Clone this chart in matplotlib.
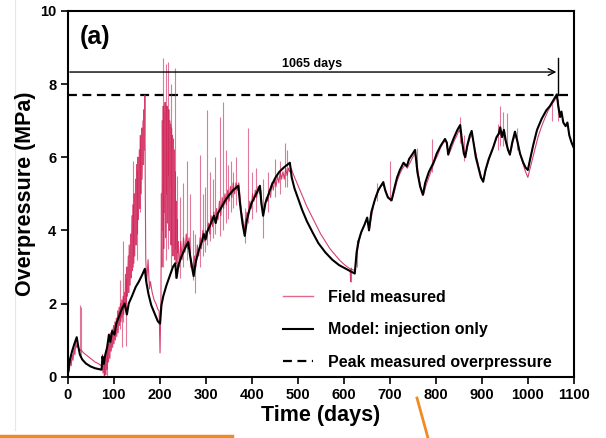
import matplotlib.pyplot as plt
from matplotlib.lines import Line2D

plt.rcParams['font.family'] = ['Liberation Sans', 'DejaVu Sans']
plt.rcParams['font.weight'] = 'bold'

# model: injection only (days, MPa)
model_days = [0, 5, 10, 15, 20, 23, 27, 32, 40, 50, 60, 74, 76, 79, 82, 86, 90, 93, 97, 102,
              106, 112, 118, 124, 129, 133, 140, 148, 155, 162, 168, 171, 176, 182, 190, 196,
              201, 204, 208, 215, 222, 229, 234, 237, 241, 248, 255, 262, 267, 271, 274, 278,
              285, 292, 296, 300, 303, 310, 318, 322, 326, 335, 342, 350, 360, 371, 375, 380,
              385, 390, 395, 400, 406, 412, 418, 421, 425, 430, 437, 444, 452, 460, 470, 483,
              487, 493, 500, 510, 520, 533, 545, 560, 575, 590, 605, 615, 624, 628, 632, 638,
              645, 651, 655, 660, 668, 675, 686, 690, 696, 704, 710, 716, 722, 730, 737, 742,
              750, 755, 760, 766, 772, 777, 785, 795, 802, 810, 820, 824, 827, 832, 840, 847,
              853, 857, 861, 864, 868, 874, 878, 882, 887, 893, 898, 903, 908, 915, 925, 932,
              937, 940, 944, 948, 952, 957, 961, 966, 972, 977, 983, 990, 995, 1000, 1005, 1012,
              1020, 1030, 1040, 1048, 1055, 1063, 1066, 1070, 1073, 1077, 1082, 1086, 1090,
              1095, 1100]
model_vals = [0.0, 0.45, 0.7, 0.9, 1.08, 0.85, 0.6, 0.47, 0.36, 0.28, 0.23, 0.19, 0.55, 0.35,
              0.6, 0.8, 1.15, 0.95, 1.25, 1.15, 1.45, 1.65, 1.85, 2.0, 1.7, 2.0, 2.2, 2.45, 2.6,
              2.78, 2.95, 2.6, 2.25, 1.95, 1.7, 1.52, 1.45, 1.95, 2.2, 2.5, 2.75, 3.0, 3.1, 2.7,
              3.05, 3.3, 3.5, 3.68, 3.25, 2.95, 2.75, 3.1, 3.45, 3.7, 3.9, 3.75, 3.95, 4.15, 4.4,
              4.2, 4.45, 4.65, 4.8, 4.95, 5.1, 5.22, 4.7, 4.2, 3.85, 4.3, 4.55, 4.75, 4.9, 5.05,
              5.22, 4.75, 4.4, 4.75, 5.0, 5.25, 5.45, 5.6, 5.72, 5.85, 5.45, 5.15, 4.9, 4.55,
              4.25, 3.93, 3.65, 3.4, 3.2, 3.05, 2.95, 2.88, 2.82, 3.4, 3.7, 3.95, 4.15, 4.35,
              4.0, 4.5, 4.85, 5.1, 5.32, 5.1, 4.9, 4.82, 5.15, 5.45, 5.65, 5.85, 5.75, 5.95, 6.1,
              6.2, 5.6, 5.2, 4.97, 5.3, 5.6, 5.85, 6.1, 6.3, 6.5, 6.4, 6.07, 6.3, 6.55, 6.75,
              6.88, 6.45, 6.1, 6.0, 6.3, 6.6, 6.72, 6.4, 6.0, 5.7, 5.45, 5.33, 5.65, 5.95, 6.28,
              6.55, 6.65, 6.82, 6.55, 6.75, 6.45, 6.2, 6.07, 6.4, 6.7, 6.45, 6.1, 5.85, 5.72,
              5.65, 5.95, 6.35, 6.75, 7.05, 7.28, 7.4, 7.55, 7.72, 7.4, 7.1, 7.25, 6.95, 6.85,
              6.95, 6.6, 6.4, 6.25]

# field measured (days, MPa)
field_days = [0, 2, 4, 6, 8, 10, 12, 14, 16, 18, 20, 22, 25, 30, 35, 40, 45, 50, 55, 60, 65,
              70, 74, 76, 77, 79, 80, 82, 83, 85, 86, 88, 89, 91, 92, 94, 95, 97, 98, 100, 101,
              103, 104, 106, 107, 109, 110, 112, 113, 115, 116, 118, 119, 121, 122, 124,
              125, 126, 128, 129, 130, 132, 133, 134, 136, 137, 138, 140, 141, 142, 144, 145,
              146, 148, 149, 150, 152, 153, 154, 156, 157, 158, 160, 161, 162, 164, 165, 166,
              167, 168, 169, 170, 172, 175, 178, 180, 184, 188, 192, 196, 199, 201, 203,
              204, 205, 206, 207, 208, 209, 210, 211, 212, 213, 214, 215, 216, 217, 218, 219,
              220, 221, 222, 223, 224, 225, 226, 227, 228, 229, 230, 231, 232, 233, 234, 235,
              236, 237, 238, 239, 240, 243, 246, 249, 252, 255, 258, 261, 264, 267, 270, 273,
              276, 279, 282, 285, 288, 291, 294, 297, 300, 303, 306, 309, 312, 315, 318, 321,
              324, 327, 330, 333, 336, 339, 342, 345, 348, 351, 354, 357, 360, 363, 366, 369,
              372, 375, 378, 381, 384, 387, 390, 393, 396, 399, 402, 405, 408, 411, 414, 417,
              420, 423, 426, 429, 432, 435, 438, 441, 444, 447, 450, 453, 456, 459, 462, 465,
              468, 471, 474, 477, 480, 483, 486, 490, 495, 500, 510, 520, 530, 540, 550, 560,
              570, 580, 590, 600, 610, 614, 615, 616, 620, 624, 626, 628, 632, 636, 640, 645,
              650, 653, 656, 660, 665, 670, 675, 680, 685, 690, 695, 700, 705, 710, 716, 722,
              728, 734, 738, 744, 750, 755, 758, 762, 766, 770, 774, 778, 785, 792, 798, 804,
              810, 816, 822, 826, 829, 834, 840, 846, 851, 855, 859, 863, 866, 870, 875, 879,
              883, 888, 893, 898, 902, 905, 910, 916, 922, 928, 933, 938, 942, 946, 950, 955,
              960, 964, 968, 973, 978, 984, 990, 995, 1000, 1003, 1008, 1015, 1022, 1030,
              1038, 1045, 1052, 1058, 1062, 1065, 1068, 1072]
field_vals = [0.0, 0.3, 0.15, 0.5, 0.3, 0.6, 0.45, 0.8, 0.6, 0.95, 0.8, 0.85, 0.75, 0.72, 0.65,
              0.6, 0.55, 0.5, 0.45, 0.4, 0.37, 0.33, 0.3, 0.6, 0.1, 0.4, 0.0, 0.5, 0.05, 0.7,
              0.2, 0.9, 0.4, 1.0, 0.5, 1.2, 0.7, 1.3, 0.8, 1.4, 0.9, 1.5, 1.0, 1.6, 1.1, 1.8,
              1.2, 1.9, 1.4, 2.0, 1.5, 2.1, 1.6, 2.2, 1.7, 2.3,
              1.9, 2.8, 2.0, 3.0, 2.2, 3.3, 2.3, 3.6, 2.5, 3.9, 2.7, 4.4, 2.9, 4.7, 3.1, 5.0,
              3.3, 5.4, 3.6, 5.8, 3.9, 6.0, 4.3, 6.2, 4.6, 6.6, 5.0, 6.8, 5.4, 7.0, 5.8, 7.3,
              6.2, 7.7, 5.0, 3.2, 2.6, 3.2, 2.4, 2.6, 2.3, 2.1, 2.0, 1.85, 1.8, 0.65, 2.2,
              5.0, 3.0, 7.0, 4.0, 7.4, 3.5, 7.2, 4.5, 7.5, 3.8, 7.3, 5.0, 7.4, 4.2, 7.1, 5.5,
              7.3, 4.0, 7.0, 5.2, 6.9, 3.6, 6.8, 4.8, 6.6, 3.3, 6.5, 4.4, 6.2, 3.2, 5.6, 3.5,
              4.8, 3.1, 4.3, 3.4, 3.7, 3.0, 3.7, 3.2, 3.8, 3.4, 3.9, 3.5, 3.8, 3.3, 3.1, 2.9,
              3.3, 3.0, 3.6, 3.3, 3.8, 3.5, 4.0, 3.7, 4.0, 3.8, 4.2, 3.9, 4.4, 4.1, 4.5, 4.2,
              4.6, 4.3, 4.8, 4.4, 4.9, 4.6, 5.0, 4.7, 5.1, 4.8, 5.2, 4.9, 5.3, 5.0, 5.3, 5.1,
              5.3, 4.9, 4.5, 4.3, 4.0, 4.3, 4.5, 4.4, 4.8, 4.6, 5.0, 4.8, 5.1, 4.9, 5.2, 5.0,
              5.1, 4.6, 4.5, 4.7, 4.9, 4.8, 5.1, 4.9, 5.3, 5.1, 5.4, 5.2, 5.5, 5.3, 5.6, 5.4,
              5.6, 5.4, 5.7, 5.5, 5.7, 5.6, 5.7, 5.55, 5.4, 5.25, 4.95, 4.65, 4.4, 4.15, 3.9,
              3.7, 3.5, 3.35, 3.2, 3.08, 2.98, 2.95, 2.6, 2.95, 2.92, 2.9, 3.0, 3.3, 3.6, 3.85,
              4.0, 4.15, 4.3, 4.2, 4.05, 4.35, 4.7, 4.95, 5.05, 5.2, 5.25, 5.15, 4.95, 4.85,
              4.85, 5.05, 5.35, 5.55, 5.7, 5.8, 5.7, 5.85, 6.0, 6.1, 5.95, 5.55, 5.25, 5.05,
              5.0, 5.2, 5.45, 5.7, 5.9, 6.05, 6.25, 6.4, 6.45, 6.2, 6.1, 6.25, 6.45, 6.6, 6.75,
              6.6, 6.25, 6.05, 6.1, 6.35, 6.55, 6.6, 6.35, 6.05, 5.75, 5.5, 5.35, 5.45, 5.7,
              5.95, 6.15, 6.4, 6.55, 6.65, 6.6, 6.7, 6.5, 6.3, 6.1, 6.2, 6.45, 6.6, 6.4, 6.05,
              5.8, 5.6, 5.45, 5.6, 5.85, 6.2, 6.55, 6.85, 7.1, 7.3, 7.45, 7.55, 7.65, 7.55,
              7.3, 7.15]

# single-reading spikes in the field record
spike_days = [1, 27, 30, 80, 85, 114, 119, 121, 126, 128, 143, 151, 158, 208, 214, 219, 224,
              233, 238, 245, 251, 259, 266, 273, 277, 288, 294, 299, 303, 309, 315, 320, 331,
              338, 344, 349, 355, 360, 366, 385, 393, 400, 410, 425, 436, 450, 461, 472, 477,
              615, 629, 672, 700, 760, 792, 853, 862, 935, 940, 947, 954, 976, 1052, 1066]
spike_lo = [0.0, 0.7, 0.6, 0.0, 0.0, 1.3, 0.8, 1.5, 0.85, 1.8, 3.0, 3.2, 4.5, 3.0, 3.2, 3.5,
            3.0, 2.7, 3.0, 2.7, 3.0, 3.2, 3.0, 2.65, 2.3, 3.0, 3.3, 3.4, 3.6, 3.7, 3.8, 3.9,
            3.85, 4.0, 4.2, 4.3, 4.5, 4.6, 4.7, 3.65, 4.2, 4.3, 4.5, 3.8, 4.5, 4.9, 5.0, 5.2,
            5.2, 2.6, 3.0, 4.8, 4.8, 5.5, 5.6, 6.4, 5.9, 6.2, 6.3, 6.3, 6.2, 6.2, 7.0, 7.0]
spike_hi = [4.5, 1.95, 1.9, 0.6, 0.9, 2.65, 1.6, 3.7, 2.0, 2.7, 5.9, 5.65, 6.6, 8.7, 8.55,
            8.6, 8.0, 8.45, 5.5, 4.9, 5.3, 5.9, 5.0, 4.0, 3.9, 6.05, 5.0, 5.2, 7.3, 5.6, 5.4,
            6.0, 7.1, 7.5, 6.2, 5.8, 5.9, 5.6, 6.0, 4.6, 6.8, 5.6, 5.7, 5.4, 5.6, 5.95, 5.9,
            6.4, 6.2, 3.0, 3.75, 5.3, 5.9, 6.25, 6.5, 7.1, 6.6, 6.9, 7.4, 7.25, 7.2, 6.8,
            7.55, 7.6]

peak_value = 7.7
peak_day = 1065

fig = plt.figure(figsize=(6.06, 4.38), dpi=100)
ax = fig.add_axes([0.1114, 0.140, 0.8356, 0.835])

field_color = '#d01f55'
ax.plot(field_days, field_vals, color=field_color, lw=0.8, alpha=0.85, zorder=2)
ax.vlines(spike_days, spike_lo, spike_hi, color=field_color, lw=0.8, alpha=0.6, zorder=2)
ax.plot(model_days, model_vals, color='black', lw=1.5, zorder=3)
ax.axhline(peak_value, color='black', lw=1.6, dashes=(4, 2.5), zorder=1)

# 1065 days annotation
ax.annotate('', xy=(peak_day - 3, 8.33), xytext=(5, 8.33),
            arrowprops=dict(arrowstyle='->', color='black', lw=1.0, shrinkA=0, shrinkB=0,
                            mutation_scale=12))
ax.plot([peak_day, peak_day], [peak_value, 8.72], color='black', lw=1.0)
ax.text(532, 8.55, '1065 days', ha='center', va='center', fontsize=9, fontweight='bold')
ax.text(27, 9.3, '(a)', ha='left', va='center', fontsize=18, fontweight='bold')

ax.set_xlim(0, 1100)
ax.set_ylim(0, 10)
ax.set_xticks(range(0, 1101, 100))
ax.set_yticks(range(0, 11, 2))
ax.tick_params(direction='out', length=5, width=1.2, labelsize=10.5, pad=3)
for lab in ax.get_xticklabels() + ax.get_yticklabels():
    lab.set_fontweight('bold')
for sp in ax.spines.values():
    sp.set_linewidth(1.5)
ax.set_xlabel('Time (days)', fontsize=15.5, fontweight='bold', labelpad=2)
ax.set_ylabel('Overpressure (MPa)', fontsize=15.5, fontweight='bold', labelpad=3)

handles = [Line2D([], [], color='#e06a8c', lw=1.0),
           Line2D([], [], color='black', lw=1.5),
           Line2D([], [], color='black', lw=1.6, dashes=(4, 2.5))]
labels = ['Field measured', 'Model: injection only', 'Peak measured overpressure']
ax.legend(handles, labels, loc='upper left', bbox_to_anchor=(0.4255, 0.238), frameon=False,
          borderpad=0, borderaxespad=0, handlelength=1.9, handletextpad=0.9,
          labelspacing=1.1, prop={'weight': 'bold', 'size': 11.5})

# screenshot marks around the figure
fig.add_artist(Line2D([15 / 606, 15 / 606], [1.0, 8 / 438], color='#e6e6e6', lw=0.8,
                      zorder=-1))
fig.add_artist(Line2D([0, 232 / 606], [2.5 / 438, 2.5 / 438], color='#f08a24', lw=2.5))
fig.add_artist(Line2D([417 / 606, 428 / 606], [1 - 398 / 438, 0], color='#f08a24', lw=2.0))

fig.savefig('out.png', dpi=100)
